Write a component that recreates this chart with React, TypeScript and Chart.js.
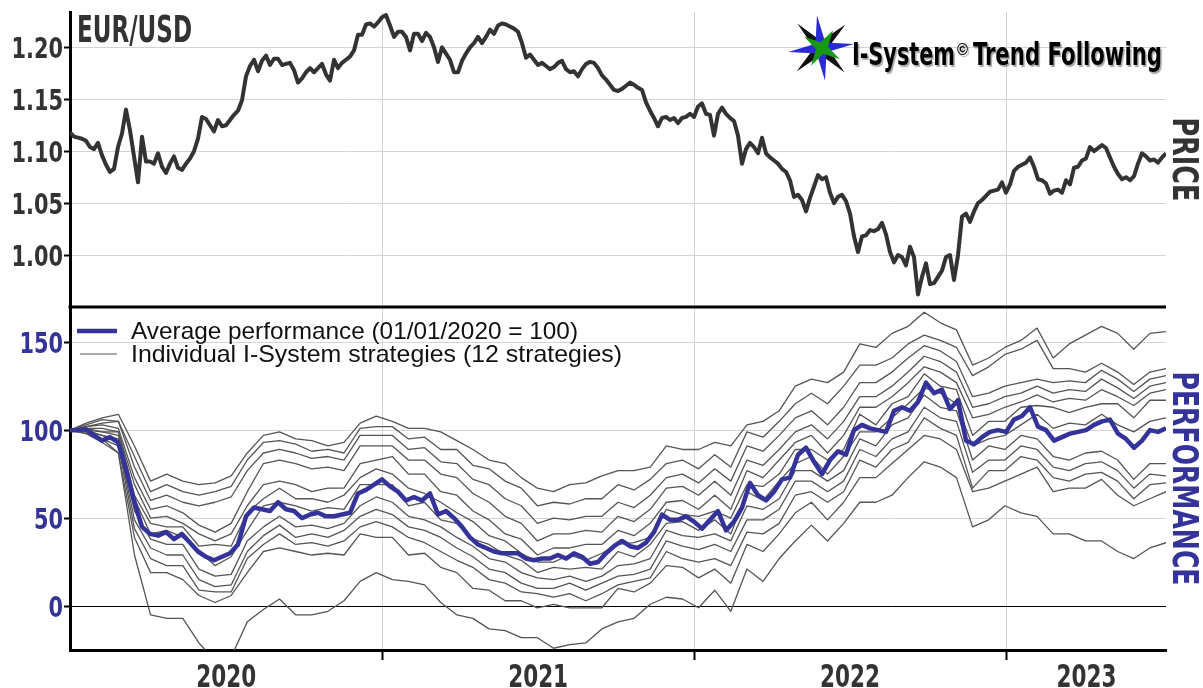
import React, { useEffect, useRef } from 'react';
import { Chart, registerables } from 'chart.js';

Chart.register(...registerables);

// ---------- data ----------
const X_MAX_DAYS = 1283; // days from 2020-01-01 to ~2023-07-07
const YEAR_STARTS = [366, 731, 1096]; // 2021-01-01, 2022-01-01, 2023-01-01
const YEAR_LABELS = ['2020', '2021', '2022', '2023'];
const YEAR_LABEL_DAYS = [183, 548, 913, 1190];

const PRICE_TICKS = [1.0, 1.05, 1.1, 1.15, 1.2];
const PERF_TICKS = [0, 50, 100, 150];

const eurusd = [
  1.118, 1.114, 1.113, 1.112, 1.110, 1.104, 1.102, 1.108, 1.096, 1.087,
  1.080, 1.083, 1.104, 1.117, 1.140, 1.120, 1.095, 1.070, 1.114, 1.090,
  1.090, 1.088, 1.098, 1.085, 1.079, 1.088, 1.095, 1.084, 1.082, 1.088,
  1.093, 1.100, 1.112, 1.133, 1.131, 1.125, 1.119, 1.130, 1.124, 1.125,
  1.130, 1.135, 1.139, 1.149, 1.172, 1.182, 1.188, 1.177, 1.187, 1.192,
  1.183, 1.189, 1.189, 1.183, 1.184, 1.185, 1.178, 1.166, 1.170, 1.176,
  1.180, 1.176, 1.180, 1.184, 1.174, 1.168, 1.188, 1.180, 1.185, 1.188,
  1.191, 1.197, 1.212, 1.212, 1.222, 1.223, 1.220, 1.224, 1.229, 1.231,
  1.221, 1.210, 1.215, 1.215, 1.210, 1.197, 1.213, 1.213, 1.206, 1.214,
  1.210, 1.200, 1.186, 1.200, 1.194, 1.188, 1.176, 1.176, 1.187, 1.194,
  1.200, 1.204, 1.210, 1.204, 1.210, 1.217, 1.213, 1.221, 1.223, 1.222,
  1.220, 1.218, 1.215, 1.204, 1.190, 1.193, 1.188, 1.183, 1.185, 1.182,
  1.179, 1.181, 1.185, 1.187, 1.179, 1.176, 1.177, 1.172, 1.179, 1.184,
  1.186, 1.185, 1.180, 1.173, 1.169, 1.164, 1.159, 1.158, 1.160, 1.163,
  1.166, 1.164, 1.161, 1.159, 1.147, 1.139, 1.132, 1.124, 1.132, 1.133,
  1.130, 1.132, 1.127, 1.132, 1.133, 1.136, 1.133, 1.143, 1.146, 1.136,
  1.135, 1.115, 1.136, 1.142, 1.136, 1.132, 1.129, 1.115, 1.088, 1.102,
  1.108, 1.104, 1.098, 1.113, 1.098, 1.094, 1.091, 1.088, 1.083, 1.080,
  1.072, 1.056, 1.058, 1.053, 1.042, 1.055, 1.066, 1.077, 1.073, 1.075,
  1.060, 1.050, 1.056, 1.058, 1.052, 1.040, 1.018, 1.003, 1.018, 1.019,
  1.024, 1.023, 1.025, 1.031, 1.020, 1.003, 0.993, 1.000, 0.998, 0.990,
  1.008, 0.998, 0.962, 0.979, 0.992, 0.972, 0.973, 0.979, 0.985, 0.998,
  1.000, 0.976, 1.000, 1.037, 1.040, 1.032, 1.042, 1.050, 1.053, 1.057,
  1.061, 1.062, 1.063, 1.070, 1.060, 1.068, 1.081, 1.085, 1.087, 1.089,
  1.094, 1.085, 1.073, 1.072, 1.069, 1.059, 1.062, 1.063, 1.060, 1.072,
  1.068, 1.084, 1.085, 1.091, 1.093, 1.104, 1.100, 1.103, 1.106, 1.103,
  1.094, 1.085, 1.078, 1.073, 1.075, 1.072, 1.076, 1.088, 1.098, 1.095,
  1.091, 1.092, 1.089, 1.094, 1.098,
];

const averagePerformance = [
  100, 100, 100.5, 97, 94, 96, 93, 78, 60, 45,
  41, 40, 42, 38, 41, 36, 31, 28, 26, 28,
  30, 35, 51, 56, 55, 54, 59, 55, 54, 50,
  52, 53, 51, 51, 52, 53, 64, 66, 69, 72,
  68, 65, 60, 62, 60, 64, 52, 54, 50, 45,
  39, 35, 33, 31, 30, 30, 30, 27, 26, 27,
  27, 29, 27, 30, 28, 24, 25, 30, 34, 37,
  34, 33, 36, 42, 52, 49, 49, 51, 48, 44,
  49, 54, 43, 48, 56, 70, 63, 60, 65, 72,
  73, 86, 90, 82, 75, 83, 88, 86, 100, 103,
  101, 100, 99, 111, 113, 111, 116, 127, 121, 123,
  112, 117, 94, 92, 96, 99, 100, 99, 106, 108,
  113, 102, 100, 94, 96, 98, 99, 100, 103, 105,
  106, 98, 95, 90, 94, 100, 99, 101,
];

const strategy01 = [100, 104, 107, 109, 91, 71, 75, 71, 69, 70, 74, 87, 97, 99, 95, 94, 91, 93, 104, 108, 105, 101, 101, 99, 94, 89, 83, 81, 73, 67, 65, 69, 70, 74, 77, 77, 79, 91, 89, 89, 93, 91, 103, 105, 111, 125, 129, 127, 133, 149, 147, 155, 159, 167, 161, 157, 137, 141, 147, 151, 158, 141, 149, 154, 159, 155, 146, 155, 156];
const strategy02 = [100, 103, 106, 105, 85, 65, 69, 65, 63, 65, 68, 83, 93, 94, 92, 88, 89, 87, 101, 102, 102, 95, 96, 89, 89, 80, 78, 71, 67, 57, 59, 58, 61, 61, 69, 66, 72, 81, 83, 78, 86, 79, 99, 96, 105, 115, 121, 115, 125, 137, 137, 141, 149, 154, 151, 147, 131, 136, 143, 146, 151, 135, 135, 133, 138, 133, 126, 133, 135];
const strategy03 = [100, 102, 104, 105, 79, 60, 63, 59, 57, 59, 62, 77, 87, 89, 87, 84, 85, 83, 97, 97, 97, 89, 90, 82, 81, 72, 69, 61, 57, 47, 50, 49, 51, 51, 59, 56, 63, 73, 75, 70, 78, 71, 91, 88, 97, 107, 111, 103, 113, 127, 127, 133, 141, 148, 145, 139, 119, 121, 125, 127, 129, 127, 128, 127, 134, 129, 122, 129, 131];
const strategy04 = [100, 102, 103, 101, 73, 55, 57, 53, 46, 42, 47, 65, 81, 83, 81, 78, 79, 77, 91, 91, 91, 83, 83, 75, 73, 64, 59, 51, 47, 37, 41, 41, 43, 42, 51, 48, 55, 67, 68, 63, 71, 63, 83, 80, 89, 99, 103, 95, 105, 119, 119, 125, 133, 142, 139, 133, 113, 115, 119, 121, 125, 121, 123, 122, 129, 124, 118, 125, 127];
const strategy05 = [100, 101, 101, 99, 69, 50, 51, 47, 41, 37, 41, 57, 69, 71, 69, 65, 67, 67, 81, 83, 85, 75, 75, 65, 63, 54, 49, 41, 38, 29, 33, 33, 35, 35, 43, 40, 47, 59, 60, 55, 63, 55, 77, 73, 83, 93, 97, 87, 97, 113, 113, 119, 127, 136, 133, 127, 107, 109, 113, 116, 120, 116, 118, 117, 123, 119, 114, 121, 123];
const strategy06 = [100, 101, 99, 99, 63, 47, 45, 45, 34, 35, 34, 53, 61, 67, 61, 61, 59, 63, 73, 78, 75, 67, 64, 59, 53, 48, 40, 37, 30, 25, 25, 29, 26, 30, 35, 36, 39, 55, 52, 51, 54, 50, 69, 68, 75, 89, 89, 83, 89, 109, 103, 115, 119, 132, 125, 123, 97, 105, 105, 113, 114, 113, 110, 113, 115, 115, 107, 117, 117];
const strategy07 = [100, 100, 99, 97, 61, 41, 43, 39, 31, 23, 28, 43, 57, 59, 57, 54, 56, 55, 69, 69, 69, 57, 59, 49, 47, 38, 35, 29, 26, 19, 22, 21, 22, 21, 31, 28, 35, 47, 48, 43, 49, 41, 65, 60, 71, 81, 85, 75, 85, 99, 99, 107, 115, 124, 121, 115, 91, 95, 97, 103, 109, 101, 104, 103, 109, 103, 99, 105, 107];
const strategy08 = [100, 100, 97, 95, 54, 38, 35, 35, 21, 17, 18, 37, 45, 51, 45, 46, 44, 47, 57, 62, 59, 51, 49, 45, 39, 34, 27, 25, 19, 16, 15, 17, 14, 17, 23, 24, 27, 43, 40, 39, 41, 37, 57, 55, 61, 77, 77, 71, 77, 95, 91, 103, 107, 120, 113, 111, 83, 91, 89, 97, 95, 85, 83, 87, 88, 83, 72, 81, 81];
const strategy09 = [100, 99, 97, 93, 49, 33, 29, 29, 15, 11, 12, 31, 40, 46, 39, 41, 39, 43, 51, 55, 52, 45, 43, 39, 33, 28, 21, 19, 13, 10, 10, 13, 9, 13, 17, 18, 21, 37, 34, 32, 35, 31, 49, 49, 55, 71, 71, 65, 71, 89, 85, 95, 99, 113, 107, 105, 76, 83, 83, 91, 89, 79, 77, 81, 82, 77, 67, 75, 74];
const strategy10 = [100, 99, 95, 91, 44, 27, 23, 23, 9, 8, 8, 27, 35, 41, 35, 36, 34, 37, 45, 48, 45, 39, 36, 31, 26, 22, 15, 13, 8, 7, 5, 7, 3, 7, 12, 14, 16, 31, 27, 25, 27, 23, 42, 41, 47, 63, 65, 59, 65, 83, 79, 89, 93, 107, 101, 97, 67, 77, 77, 85, 83, 73, 71, 75, 76, 71, 61, 69, 70];
const strategy11 = [100, 98, 95, 87, 39, 19, 19, 15, 6, 2, 6, 19, 31, 33, 31, 29, 30, 29, 41, 39, 39, 29, 30, 22, 19, 10, 9, 3, 3, -1, 1, -1, -1, -1, 10, 8, 13, 23, 22, 16, 21, 13, 35, 31, 41, 53, 59, 49, 59, 73, 73, 81, 89, 97, 95, 89, 65, 67, 71, 75, 79, 65, 67, 67, 72, 63, 57, 61, 65];
const strategy12 = [100, 98, 93, 87, 29, -5, -7, -7, -21, -31, -29, -9, -2, 4, -5, -5, -3, 3, 14, 19, 15, 14, 12, 2, -5, -7, -13, -14, -18, -18, -24, -22, -21, -13, -9, -7, 1, 5, 4, -1, 9, -3, 21, 14, 27, 37, 46, 37, 47, 59, 59, 63, 73, 82, 79, 73, 45, 49, 57, 53, 51, 41, 41, 37, 37, 31, 27, 33, 36];

const strategies = [
  strategy01, strategy02, strategy03, strategy04, strategy05, strategy06,
  strategy07, strategy08, strategy09, strategy10, strategy11, strategy12,
];

// ---------- styling ----------
const NARROW = '"Liberation Sans Narrow", "DejaVu Sans Condensed", "Arial Narrow", sans-serif';
const SANS = '"Liberation Sans", Arial, "DejaVu Sans", sans-serif';
const GRID = '#d4d4d4';
const DARK = '#333333';
const PERF_BLUE = '#333399';

// points spread evenly along the date axis (regular sampling)
const toPoints = (vals: number[]) =>
  vals.map((v, i) => ({ x: (i * X_MAX_DAYS) / (vals.length - 1), y: v }));

// text squeezed horizontally to imitate a condensed heavy face
function drawFitted(ctx: CanvasRenderingContext2D, text: string, x: number, baseline: number,
  width: number, font: string, color: string) {
  ctx.save();
  ctx.font = font;
  const w = ctx.measureText(text).width;
  ctx.translate(x, baseline);
  ctx.scale(width / w, 1);
  ctx.fillStyle = color;
  ctx.textBaseline = 'alphabetic';
  ctx.textAlign = 'left';
  ctx.fillText(text, 0, 0);
  ctx.restore();
}

function drawSqueezed(ctx: CanvasRenderingContext2D, text: string, x: number, baseline: number,
  sizePx: number, sx: number, color: string, align: CanvasTextAlign) {
  ctx.save();
  ctx.font = `bold ${sizePx}px ${NARROW}`;
  ctx.fillStyle = color;
  ctx.textAlign = align;
  ctx.textBaseline = 'alphabetic';
  ctx.translate(x, baseline);
  ctx.scale(sx, 1);
  ctx.fillText(text, 0, 0);
  ctx.restore();
}

function drawVerticalTitle(ctx: CanvasRenderingContext2D, text: string, cx: number, cy: number,
  length: number, sizePx: number, color: string) {
  ctx.save();
  ctx.font = `bold ${sizePx}px ${NARROW}`;
  const w = ctx.measureText(text).width;
  ctx.translate(cx, cy);
  ctx.rotate(Math.PI / 2);
  ctx.scale(length / w, 1);
  ctx.fillStyle = color;
  ctx.textAlign = 'center';
  ctx.textBaseline = 'alphabetic';
  ctx.fillText(text, 0, sizePx * 0.729 / 2);
  ctx.restore();
}

function drawStar(ctx: CanvasRenderingContext2D, cx: number, cy: number, outer: number,
  inner: number, startDeg: number, color: string) {
  const n = 4;
  ctx.beginPath();
  for (let i = 0; i < 2 * n; i++) {
    const a = (startDeg * Math.PI) / 180 + (i * Math.PI) / n;
    const r = i % 2 === 0 ? outer : inner;
    const px = cx + r * Math.cos(a);
    const py = cy + r * Math.sin(a);
    if (i === 0) ctx.moveTo(px, py); else ctx.lineTo(px, py);
  }
  ctx.closePath();
  ctx.fillStyle = color;
  ctx.fill();
}

const decorations = {
  id: 'decorations',
  afterDraw(chart: any) {
    const { ctx, chartArea } = chart;
    const { x: xs, yPrice, yPerf } = chart.scales;
    ctx.save();

    // panel divider
    ctx.strokeStyle = '#000';
    ctx.lineWidth = 3;
    ctx.beginPath();
    ctx.moveTo(chartArea.left - 1.5, yPerf.top);
    ctx.lineTo(chartArea.right, yPerf.top);
    ctx.stroke();

    // axis tick labels (positioned by the chart's scales)
    PRICE_TICKS.forEach((v) => {
      drawSqueezed(ctx, v.toFixed(2), chartArea.left - 7, yPrice.getPixelForValue(v) + 10.5, 29, 0.8, DARK, 'right');
    });
    PERF_TICKS.forEach((v) => {
      drawSqueezed(ctx, String(v), chartArea.left - 7, yPerf.getPixelForValue(v) + 10.5, 29, 0.8, PERF_BLUE, 'right');
    });
    YEAR_LABEL_DAYS.forEach((d, i) => {
      drawSqueezed(ctx, YEAR_LABELS[i], xs.getPixelForValue(d), 687, 31.5, 0.76, DARK, 'center');
    });

    // panel titles on the right
    drawVerticalTitle(ctx, 'PRICE', 1186, (yPrice.top + yPrice.bottom) / 2, 84, 35.7, DARK);
    drawVerticalTitle(ctx, 'PERFORMANCE', 1186, (yPerf.top + yPerf.bottom) / 2, 214, 35.7, PERF_BLUE);

    // instrument name
    drawFitted(ctx, 'EUR/USD', chartArea.left + 7, 42, 115, `bold 37px ${NARROW}`, DARK);

    // logo star
    drawStar(ctx, 821, 48, 34, 7, -44, '#111111');
    drawStar(ctx, 821, 48, 33, 7, -97, '#2b2bd6');
    drawStar(ctx, 822, 48, 21, 6, -58, '#169a16');

    // logo text
    ctx.save();
    ctx.shadowColor = 'rgba(0,0,0,0.35)';
    ctx.shadowOffsetX = 1.5;
    ctx.shadowOffsetY = 1.5;
    ctx.shadowBlur = 1;
    drawFitted(ctx, 'I-System', 852, 65, 103, `bold 32px ${NARROW}`, '#000');
    drawFitted(ctx, '©', 957, 55, 11, `bold 16px ${SANS}`, '#000');
    drawFitted(ctx, 'Trend Following', 973, 65, 189, `bold 32px ${NARROW}`, '#000');
    ctx.restore();

    // legend
    const lx = chartArea.left;
    const ly = yPerf.top;
    ctx.lineCap = 'butt';
    ctx.strokeStyle = PERF_BLUE;
    ctx.lineWidth = 4.5;
    ctx.beginPath();
    ctx.moveTo(lx + 7, ly + 24);
    ctx.lineTo(lx + 47, ly + 24);
    ctx.stroke();
    ctx.strokeStyle = '#555555';
    ctx.lineWidth = 1.2;
    ctx.beginPath();
    ctx.moveTo(lx + 10, ly + 47);
    ctx.lineTo(lx + 47, ly + 47);
    ctx.stroke();
    drawFitted(ctx, 'Average performance (01/01/2020 = 100)', lx + 61, ly + 32, 447, `24px ${SANS}`, '#111');
    drawFitted(ctx, 'Individual I-System strategies (12 strategies)', lx + 61, ly + 55, 491, `24px ${SANS}`, '#111');

    ctx.restore();
  },
};

export default function App() {
  const canvasRef = useRef<HTMLCanvasElement>(null);

  useEffect(() => {
    const canvas = canvasRef.current;
    if (!canvas) return;

    const datasets: any[] = [
      {
        label: 'Average performance (01/01/2020 = 100)',
        data: toPoints(averagePerformance),
        yAxisID: 'yPerf',
        borderColor: PERF_BLUE,
        borderWidth: 4.5,
        pointRadius: 0,
        order: 0,
      },
      {
        label: 'EUR/USD',
        data: toPoints(eurusd),
        yAxisID: 'yPrice',
        borderColor: DARK,
        borderWidth: 4,
        pointRadius: 0,
        order: 1,
      },
      ...strategies.map((s, i) => ({
        label: `Strategy ${i + 1}`,
        data: toPoints(s),
        yAxisID: 'yPerf',
        borderColor: '#555555',
        borderWidth: 1.3,
        pointRadius: 0,
        order: 2,
      })),
    ];

    const isBoundary = (v: number) => YEAR_STARTS.includes(v);

    const chart = new Chart(canvas, {
      type: 'line',
      data: { datasets },
      plugins: [decorations],
      options: {
        responsive: false,
        animation: false,
        devicePixelRatio: 1,
        events: [],
        layout: { padding: { top: 12, left: 0, right: 0, bottom: 0 } },
        elements: { line: { tension: 0, borderJoinStyle: 'round' } },
        plugins: { legend: { display: false }, tooltip: { enabled: false } },
        scales: {
          x: {
            type: 'linear',
            min: 0,
            max: X_MAX_DAYS,
            afterBuildTicks: (s: any) => {
              s.ticks = [...YEAR_STARTS, ...YEAR_LABEL_DAYS]
                .sort((a, b) => a - b)
                .map((v) => ({ value: v }));
            },
            afterFit: (s: any) => { s.height = 38; },
            ticks: { display: false, autoSkip: false },
            grid: {
              color: (c: any) => (c.tick && isBoundary(c.tick.value) ? GRID : 'rgba(0,0,0,0)'),
              tickColor: (c: any) => (c.tick && isBoundary(c.tick.value) ? '#000' : 'rgba(0,0,0,0)'),
              tickLength: 10,
              tickWidth: 2,
              lineWidth: 1,
            },
            border: { color: '#000', width: 3 },
          },
          yPrice: {
            type: 'linear',
            position: 'left',
            stack: 'panels',
            stackWeight: 295,
            weight: 2,
            min: 0.95,
            max: 1.234,
            afterBuildTicks: (s: any) => { s.ticks = PRICE_TICKS.map((v) => ({ value: v })); },
            afterFit: (s: any) => { s.width = 70; },
            ticks: { display: false },
            grid: { color: GRID, tickColor: '#000', tickLength: 6, tickWidth: 2, lineWidth: 1 },
            border: { color: '#000', width: 3 },
          },
          yPerf: {
            type: 'linear',
            position: 'left',
            stack: 'panels',
            stackWeight: 343,
            weight: 1,
            min: -25,
            max: 170,
            afterBuildTicks: (s: any) => { s.ticks = PERF_TICKS.map((v) => ({ value: v })); },
            afterFit: (s: any) => { s.width = 70; },
            ticks: { display: false },
            grid: {
              color: (c: any) => (c.tick && c.tick.value === 0 ? '#000' : GRID),
              tickColor: '#000',
              tickLength: 6,
              tickWidth: 2,
              lineWidth: 1,
            },
            border: { color: '#000', width: 3 },
          },
          yPriceR: {
            type: 'linear',
            position: 'right',
            stack: 'rightTitles',
            stackWeight: 295,
            weight: 1,
            afterFit: (s: any) => { s.width = 37; },
            ticks: { display: false },
            grid: { display: false, drawTicks: false },
            border: { display: false },
          },
          yPerfR: {
            type: 'linear',
            position: 'right',
            stack: 'rightTitles',
            stackWeight: 343,
            weight: 2,
            afterFit: (s: any) => { s.width = 37; },
            ticks: { display: false },
            grid: { display: false, drawTicks: false },
            border: { display: false },
          },
        },
      } as any,
    });

    return () => chart.destroy();
  }, []);

  return (
    <div style={{ position: 'absolute', left: 0, top: 0, width: 1203, height: 688, background: '#fff' }}>
      <canvas ref={canvasRef} width={1203} height={688} style={{ display: 'block', width: 1203, height: 688 }} />
    </div>
  );
}
